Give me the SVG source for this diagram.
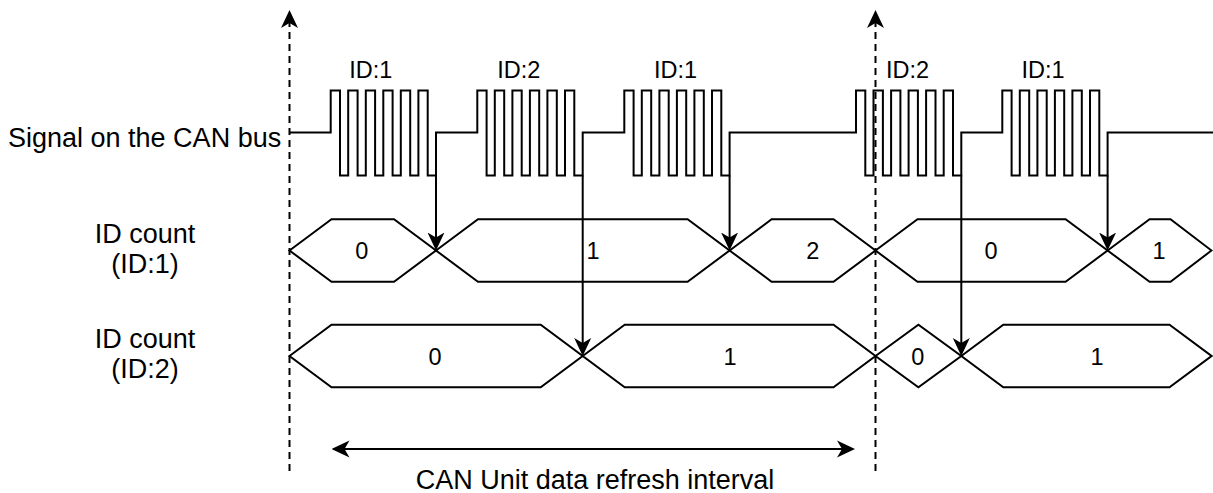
<svg xmlns="http://www.w3.org/2000/svg" width="1213" height="493" viewBox="0 0 1213 493">
<style>
  .ln{fill:none;stroke:#000;stroke-width:2;stroke-linejoin:miter}
  .hex{fill:#fff;stroke:#000;stroke-width:2;stroke-linejoin:miter}
  .dash{fill:none;stroke:#000;stroke-width:2;stroke-dasharray:7 5}
  .lbl{font-family:"Liberation Sans",Arial,sans-serif;font-size:27px;fill:#000}
  .sm{font-family:"Liberation Sans",Arial,sans-serif;font-size:23.5px;fill:#000;text-anchor:middle}
  .mid{text-anchor:middle}
</style>
<defs>
  <marker id="ah" viewBox="0 0 18 18" refX="14" refY="9" markerWidth="18" markerHeight="18" orient="auto-start-reverse" markerUnits="userSpaceOnUse">
    <path d="M18,9 L0,0.5 L5,9 L0,17.5 Z" fill="#000" stroke="none"/>
  </marker>
</defs>
<rect width="1213" height="493" fill="#fff"/>

<g id="labels">
  <text class="lbl" x="8" y="146.7">Signal on the CAN bus</text>
  <text class="lbl mid" x="145" y="243">ID count</text>
  <text class="lbl mid" x="145" y="273">(ID:1)</text>
  <text class="lbl mid" x="145" y="348">ID count</text>
  <text class="lbl mid" x="145" y="378">(ID:2)</text>
  <text class="lbl mid" x="595" y="489">CAN Unit data refresh interval</text>
</g>

<g id="frame-labels">
  <text class="sm" x="370.8" y="78">ID:1</text>
  <text class="sm" x="518.7" y="78">ID:2</text>
  <text class="sm" x="675.5" y="78">ID:1</text>
  <text class="sm" x="907.5" y="78">ID:2</text>
  <text class="sm" x="1043" y="78">ID:1</text>
</g>

<g id="can-signal">
  <path class="ln" d="M290,132.5 H330.7 V90.5 H340 V175.5 H348.2 V90.5 H357.6 V175.5 H365.8 V90.5 H375.1 V175.5 H383.3 V90.5 H392.6 V175.5 H400.8 V90.5 H410.2 V175.5 H418.4 V90.5 H427.7 V175.5 H436 V132.5
  H477.3 V90.5 H486.6 V175.5 H494.8 V90.5 H504.2 V175.5 H512.4 V90.5 H521.7 V175.5 H529.9 V90.5 H539.2 V175.5 H547.4 V90.5 H556.8 V175.5 H565 V90.5 H574.3 V175.5 H582.7 V132.5
  H624.3 V90.5 H633.6 V175.5 H641.8 V90.5 H651.2 V175.5 H659.4 V90.5 H668.7 V175.5 H676.9 V90.5 H686.2 V175.5 H694.4 V90.5 H703.8 V175.5 H712 V90.5 H721.3 V175.5 H729.6 V132.5
  H856 V90.5 H865.3 V175.5 H873.5 V90.5 H882.9 V175.5 H891.1 V90.5 H900.4 V175.5 H908.6 V90.5 H917.9 V175.5 H926.1 V90.5 H935.5 V175.5 H943.7 V90.5 H953 V175.5 H961.3 V132.5
  H1002.3 V90.5 H1011.6 V175.5 H1019.8 V90.5 H1029.2 V175.5 H1037.4 V90.5 H1046.7 V175.5 H1054.9 V90.5 H1064.2 V175.5 H1072.4 V90.5 H1081.8 V175.5 H1090 V90.5 H1099.3 V175.5 H1107.6 V132.5 H1213"/>
</g>

<g id="id1-count">
  <g id="id1-v0a"><polygon class="hex" points="289.5,250.5 331.5,219.3 394,219.3 436,250.5 394,281.7 331.5,281.7"/><text class="sm" x="361.7" y="259">0</text></g>
  <g id="id1-v1a"><polygon class="hex" points="436,250.5 478,219.3 687.6,219.3 729.6,250.5 687.6,281.7 478,281.7"/><text class="sm" x="593" y="259">1</text></g>
  <g id="id1-v2"><polygon class="hex" points="729.6,250.5 771.6,219.3 833.5,219.3 875.5,250.5 833.5,281.7 771.6,281.7"/><text class="sm" x="812.7" y="259">2</text></g>
  <g id="id1-v0b"><polygon class="hex" points="875.5,250.5 917.5,219.3 1065.6,219.3 1107.6,250.5 1065.6,281.7 917.5,281.7"/><text class="sm" x="991" y="259">0</text></g>
  <g id="id1-v1b"><polygon class="hex" points="1107.6,250.5 1149.6,219.3 1170.5,219.3 1211.5,250.5 1170.5,281.7 1149.6,281.7"/><text class="sm" x="1159" y="259">1</text></g>
</g>

<g id="id2-count">
  <g id="id2-v0a"><polygon class="hex" points="289.5,356 331.5,324.8 540.7,324.8 582.7,356 540.7,387.2 331.5,387.2"/><text class="sm" x="435" y="364.5">0</text></g>
  <g id="id2-v1a"><polygon class="hex" points="582.7,356 624.7,324.8 833.5,324.8 875.5,356 833.5,387.2 624.7,387.2"/><text class="sm" x="730" y="364.5">1</text></g>
  <g id="id2-v0b"><polygon class="hex" points="875.5,356 918.4,324.8 961.3,356 918.4,387.2"/><text class="sm" x="917.7" y="364.5">0</text></g>
  <g id="id2-v1b"><polygon class="hex" points="961.3,356 1003.3,324.8 1169.5,324.8 1211.5,356 1169.5,387.2 1003.3,387.2"/><text class="sm" x="1097" y="364.5">1</text></g>
</g>

<g id="connectors">
  <line class="dash" x1="289.5" y1="471" x2="289.5" y2="14" marker-end="url(#ah)"/>
  <line class="dash" x1="875.5" y1="471" x2="875.5" y2="14" marker-end="url(#ah)"/>
  <line class="ln" x1="436" y1="175.5" x2="436" y2="246.5" marker-end="url(#ah)"/>
  <line class="ln" x1="582.7" y1="175.5" x2="582.7" y2="352" marker-end="url(#ah)"/>
  <line class="ln" x1="729.6" y1="175.5" x2="729.6" y2="246.5" marker-end="url(#ah)"/>
  <line class="ln" x1="961.3" y1="175.5" x2="961.3" y2="352" marker-end="url(#ah)"/>
  <line class="ln" x1="1107.6" y1="175.5" x2="1107.6" y2="246.5" marker-end="url(#ah)"/>
  <line class="ln" x1="335.5" y1="449" x2="851" y2="449" marker-start="url(#ah)" marker-end="url(#ah)"/>
</g>
</svg>
